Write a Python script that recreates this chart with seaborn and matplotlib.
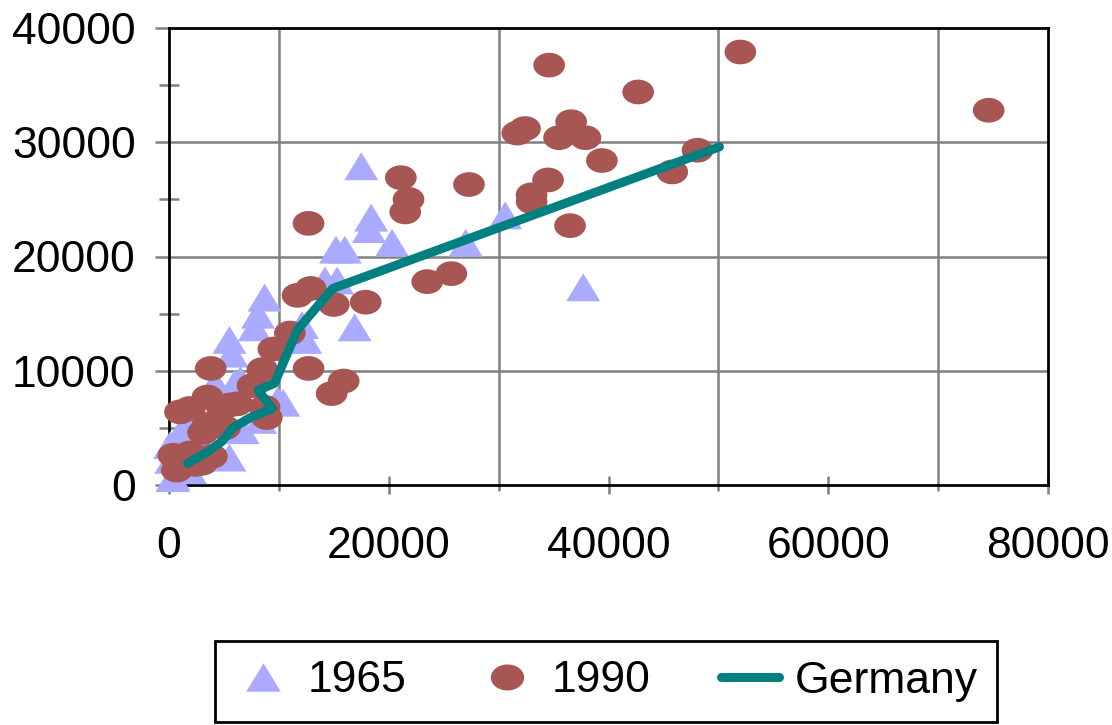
import matplotlib
matplotlib.use("Agg")
import matplotlib.pyplot as plt
import numpy as np
import pandas as pd
import seaborn as sns
from matplotlib.path import Path
from matplotlib.lines import Line2D
from matplotlib.ticker import MultipleLocator

# 1965 points (x, y)
x_1965 = [17500, 18400, 18200, 20300, 15200, 16000, 30600, 27000, 37700, 14200,
          15300, 8700, 8100, 7800, 5500, 5700, 12100, 12400, 16900, 9900,
          5300, 5500, 1000, 300, 400, 200, 100, 1500, 2800, 6500,
          6000, 4200, 10400, 6700, 1900, 8300]
y_1965 = [27900, 23400, 22400, 21200, 20600, 20600, 23600, 21200, 17300, 17900,
          17900, 16400, 14900, 13800, 12700, 11500, 14000, 12700, 13800, 7400,
          7700, 2400, 4400, 600, 700, 2200, 3500, 5300, 3900, 9200,
          8900, 8900, 7200, 4800, 1300, 5700]

# 1990 points
x_1990 = [52000, 74600, 34600, 42700, 31700, 32400, 36600, 35500, 37900, 39400,
          48100, 45800, 34500, 27300, 21100, 21800, 21500, 33000, 33000, 36500,
          23500, 25700, 12700, 11700, 12900, 15000, 17900, 11000, 9500, 3800,
          8500, 12700, 15900, 14800, 7600, 8700, 8900, 1000, 1900, 3500,
          4800, 6200, 5500, 3500, 5100, 3100, 3900, 400, 1900, 700,
          2400, 1500, 3000]
y_1990 = [37900, 32800, 36750, 34400, 30800, 31200, 31800, 30400, 30400, 28400,
          29300, 27400, 26700, 26300, 26900, 25000, 23900, 25400, 24800, 22700,
          17800, 18500, 22900, 16600, 17200, 15800, 16000, 13300, 11900, 10200,
          10100, 10200, 9100, 8000, 8700, 6800, 5900, 6400, 6700, 7700,
          6800, 7100, 7000, 5300, 5000, 4600, 2500, 2600, 2800, 1300,
          1800, 2000, 1900]

# Germany path
x_de = [1700, 3500, 4800, 5800, 7400, 9400, 8100, 9600, 11700, 14900, 50100]
y_de = [1900, 2900, 3800, 5000, 5900, 6700, 8300, 8900, 13600, 17200, 29600]

c_1965 = "#aaaaff"
c_1990 = "#a85654"
c_de = "#008080"

# Excel-ish stretched markers
tri = Path([(-1, -0.82), (1, -0.82), (0, 0.82), (-1, -0.82)],
           [Path.MOVETO, Path.LINETO, Path.LINETO, Path.CLOSEPOLY])
t = np.linspace(0, 2 * np.pi, 60)
ell = Path(np.column_stack([np.cos(t), 0.78 * np.sin(t)]), closed=True)

sns.set_style("white")
plt.rcParams['font.family'] = ['Liberation Sans', 'DejaVu Sans']
plt.rcParams['text.color'] = 'black'

fig = plt.figure(figsize=(11.12, 7.25), dpi=100)
ax = fig.add_axes([169 / 1112, 1 - 485 / 725, 879 / 1112, 457 / 725])

sns.scatterplot(x=x_1965, y=y_1965, marker=tri, s=600, color=c_1965,
                edgecolor="none", linewidth=0, ax=ax, zorder=3, clip_on=False)
sns.scatterplot(x=x_1990, y=y_1990, marker=ell, s=520, color=c_1990,
                edgecolor="none", linewidth=0, ax=ax, zorder=4, clip_on=False)
df_de = pd.DataFrame({"x": x_de, "y": y_de})
sns.lineplot(data=df_de, x="x", y="y", sort=False, estimator=None, color=c_de,
             linewidth=6.5, solid_capstyle="round", solid_joinstyle="round",
             ax=ax, zorder=5)

ax.set_xlim(0, 80000)
ax.set_ylim(0, 40000)
ax.set_xlabel("")
ax.set_ylabel("")

ax.xaxis.set_minor_locator(MultipleLocator(10000))
ax.yaxis.set_minor_locator(MultipleLocator(5000))

grey = "#808080"
ax.grid(False)
for v in [10000, 30000, 50000, 70000]:
    ax.axvline(v, color=grey, lw=1.8, zorder=1)
for v in [10000, 20000, 30000]:
    ax.axhline(v, color=grey, lw=1.8, zorder=1)

ax.set_xticks([0, 20000, 40000, 60000, 80000])
ax.set_xticklabels(["0", "20000", "40000", "60000", "80000"])
ax.set_yticks([0, 10000, 20000, 30000, 40000])
ax.set_yticklabels(["0", "10000", "20000", "30000", "40000"])

ax.tick_params(axis="x", which="major", direction="inout", length=13, width=1.8,
               color=grey, pad=23, labelsize=32, labelcolor="black", bottom=True)
ax.tick_params(axis="x", which="minor", direction="out", length=4, width=1.8,
               color=grey, bottom=True)
ax.tick_params(axis="y", which="major", direction="out", length=10, width=1.8,
               color=grey, pad=14, labelsize=32, labelcolor="black", left=True)
ax.tick_params(axis="y", which="minor", direction="inout", length=14, width=1.8,
               color=grey, left=True)

for s in ax.spines.values():
    s.set_visible(True)
    s.set_color("black")
    s.set_linewidth(2)
    s.set_zorder(2)

handles = [
    Line2D([], [], marker=tri, markersize=25, color=c_1965, linestyle="none",
           markeredgewidth=0),
    Line2D([], [], marker=ell, markersize=24, color=c_1990, linestyle="none",
           markeredgewidth=0),
    Line2D([], [], color=c_de, linewidth=6.5, solid_capstyle="round"),
]
leg = fig.legend(handles, ["1965", "1990", "Germany"], loc="center",
                 bbox_to_anchor=(606 / 1112, 1 - 681 / 725), ncol=3,
                 fontsize=32, frameon=True, fancybox=False, edgecolor="black",
                 framealpha=1, handlelength=1.3, handletextpad=0.35,
                 columnspacing=1.6, borderpad=0.45, borderaxespad=0)
leg.get_frame().set_linewidth(2)
for txt in leg.get_texts():
    txt.set_color("black")

fig.savefig("out.png", dpi=100)
